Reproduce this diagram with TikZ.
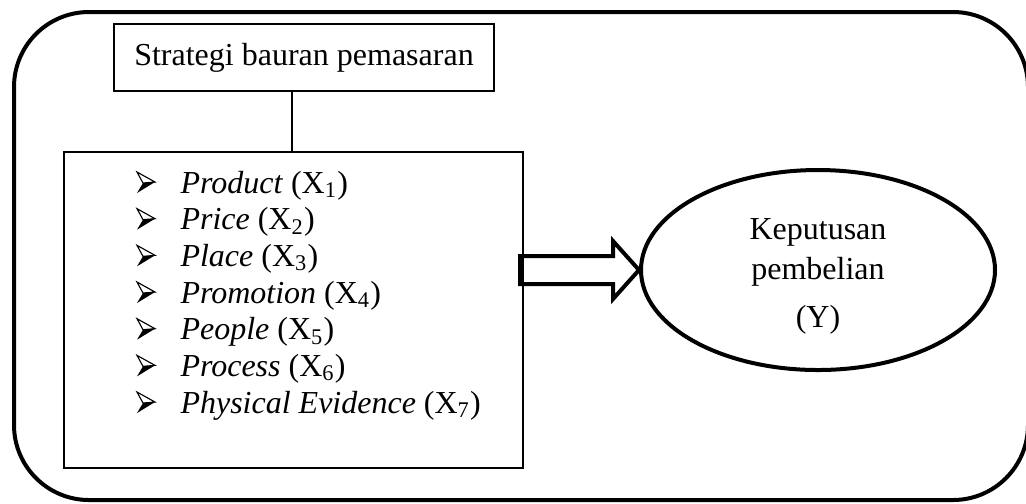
\documentclass[tikz,border=0pt]{standalone}
\usepackage{fontspec}
\setmainfont{Liberation Serif}
\usetikzlibrary{shapes.geometric}
\begin{document}
\begin{tikzpicture}[x=0.4pt, y=-0.4pt, font=\fontsize{12.8}{15}\selectfont,
    thinbox/.style={draw, line width=.6pt, inner sep=0pt},
    thickline/.style={line width=1.6pt},
    item/.style={inner sep=0pt, anchor=base west}]
\useasboundingbox (0,0) rectangle (1026,503);
\draw[thickline, rounded corners=30pt] (14,12) rectangle (1028,500);
\node[thinbox, minimum width=152pt, minimum height=26.8pt] (strat) at (304,57.5) {Strategi bauran pemasaran};
\node[thinbox, minimum width=183.6pt, minimum height=126.4pt] (mix) at (293.5,310) {};
\draw[line width=.6pt] ([xshift=-4.8pt]strat.south) -- ([xshift=-4.8pt]strat.south |- mix.north);
\foreach \name [count=\i] in {Product,Price,Place,Promotion,People,Process,Physical Evidence}
{
    \coordinate (b\i) at (137,{193+36.67*(\i-1)});
    \draw[line width=.45pt, line join=miter] (b\i) ++(0,-21) -- ++(18,10) -- ++(-12,1) -- cycle;
    \fill (b\i) -- ++(6,-10) -- ++(12,-1) -- cycle;
    \node[item] (v\i) at (180,{193+36.67*(\i-1)}) {\textit{\name} (X\textsubscript{\i})};
}
\node[ellipse, draw, thickline, minimum width=141.6pt, minimum height=80pt, inner sep=0pt] (goal) at (818,270) {};
\node[align=center, inner sep=0pt] (goaltext) at ([yshift=-2.4pt]goal.center) {Keputusan\\[1.2pt]pembelian\\[4pt](Y)};
\draw[thickline, line join=miter] (goal.west) -- ++(-26,-29) -- ++(0,15) -- ++(-93,0) -- ++(0,28) -- ++(93,0) -- ++(0,15) -- cycle;
\end{tikzpicture}
\end{document}
